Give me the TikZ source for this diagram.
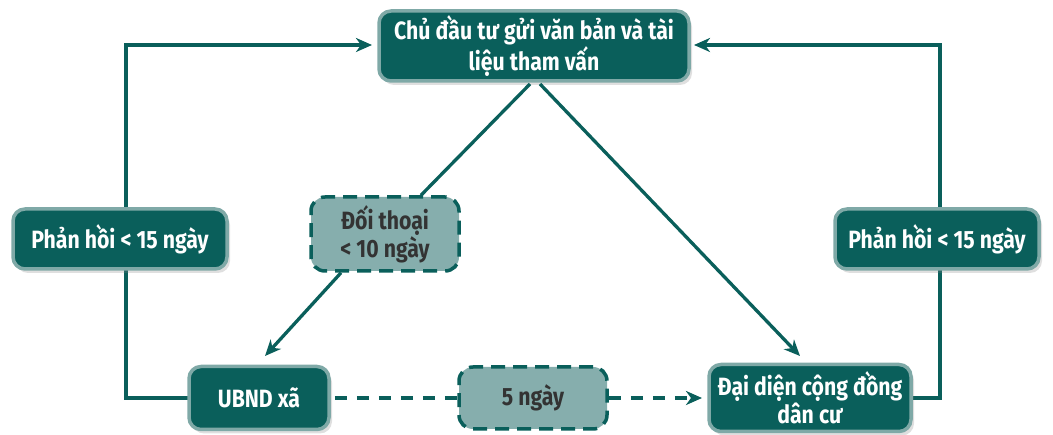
\documentclass[tikz,border=0pt]{standalone}
\usepackage{fontspec}
\setmainfont{Fira Sans}[FakeStretch=0.85]
\usetikzlibrary{arrows.meta,shadows}
\definecolor{teal1}{HTML}{0A5F5B}
\definecolor{rim}{HTML}{7FA9A7}
\definecolor{lite}{HTML}{86AEAD}
\tikzset{
  box/.style={draw=rim, line width=3.5pt, fill=teal1, rounded corners=12pt, text=white,
    font=\fontsize{25}{28}\selectfont\bfseries, align=center, inner sep=0pt,
    drop shadow={shadow xshift=3pt, shadow yshift=-4pt, opacity=0.25}},
  dbox/.style={draw=teal1, line width=3.5pt, dash pattern=on 14pt off 8pt, fill=lite, rounded corners=14pt,
    text=black!80, font=\fontsize{25}{28}\selectfont\bfseries, align=center, inner sep=0pt},
  conn/.style={draw=teal1, line width=3.3pt},
  tip/.style={-{Stealth[length=16pt, width=14pt, inset=5pt]}},
  arr/.style={conn, tip},
  dconn/.style={conn, dash pattern=on 12pt off 10pt},
}
\begin{document}
\begin{tikzpicture}[x=1pt, y=-1pt]
\useasboundingbox (0,0) rectangle (1053,435);
\coordinate (l1) at (126,398);
\coordinate (l2) at (126,45);
\coordinate (r1) at (940,398);
\coordinate (r2) at (940,45);
\coordinate (ta) at (530,84);
\coordinate (tb) at (540,84);
\coordinate (tl) at (372,45);
\coordinate (tr) at (694,45);
\coordinate (ubin) at (265,356);
\coordinate (ddin) at (800,356);
\coordinate (ddl) at (702,398);
\draw[arr] (188,398) -- (l1) -- (l2) -- (tl);
\draw[arr] (912,398) -- (r1) -- (r2) -- (tr);
\node[box, minimum width=310pt, minimum height=70pt] (top) at (534,46) {Chủ đầu tư gửi văn bản và tài\\liệu tham vấn};
\node[box, minimum width=214pt, minimum height=60pt] (pl) at (120,239) {Phản hồi < 15 ngày};
\node[box, minimum width=204pt, minimum height=60pt] (pr) at (937,239) {Phản hồi < 15 ngày};
\node[box, minimum width=140pt, minimum height=63pt] (ub) at (259,398) {UBND xã};
\node[box, minimum width=202pt, minimum height=67pt] (dd) at (810,398) {Đại diện cộng đồng\\dân cư};
\node[dbox, minimum width=148pt, minimum height=74pt] (dt) at (385,234) {Đối thoại\\< 10 ngày};
\node[dbox, minimum width=148pt, minimum height=62pt] (ng) at (533,398) {5 ngày};
\draw[conn] (ta) -- ([xshift=36pt]dt.north);
\draw[arr] ([xshift=-44pt]dt.south) -- (ubin);
\draw[arr] (tb) -- (ddin);
\draw[dconn] (ub.east) ++(4pt,0) -- (ng.west);
\draw[dconn, tip] (ng.east) -- (ddl);
\end{tikzpicture}
\end{document}
